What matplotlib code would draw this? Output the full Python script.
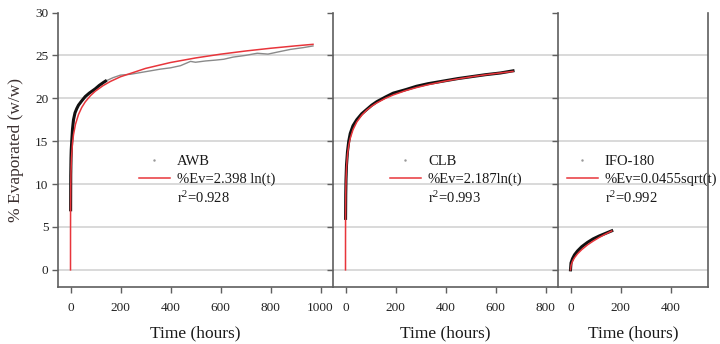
import matplotlib
matplotlib.use("Agg")
import matplotlib.pyplot as plt
from matplotlib.lines import Line2D

plt.rcParams['font.family'] = ['Liberation Serif', 'DejaVu Serif']
plt.rcParams['mathtext.fontset'] = 'custom'
plt.rcParams['mathtext.rm'] = 'Liberation Serif'
plt.rcParams['mathtext.it'] = 'Liberation Serif:italic'

# ---------------- data ----------------
# AWB observed (dense early part, sparse later part)
awb_t_dense = [0.5, 1, 2, 3, 5, 8, 12, 18, 25, 32, 45, 59, 75, 99, 115, 132, 140]
awb_y_dense = [7.0, 11.0, 13.0, 14.0, 15.0, 16.4, 17.5, 18.3, 18.8, 19.2, 19.7, 20.2, 20.6, 21.1, 21.5, 21.85, 22.0]
awb_t_sparse = [140, 170, 200, 240, 280, 320, 360, 400, 440, 480, 500, 540, 580, 613, 650, 700, 747, 790, 830, 880, 930, 970]
awb_y_sparse = [22.0, 22.4, 22.7, 22.8, 23.0, 23.2, 23.4, 23.55, 23.8, 24.3, 24.2, 24.35, 24.45, 24.55, 24.8, 25.0, 25.25, 25.15, 25.4, 25.7, 25.9, 26.1]
awb_fit_t = [0.017, 0.05, 0.1, 0.3, 1, 2, 4, 8, 12, 20, 32, 45, 59, 80, 99, 130, 160, 200, 300, 400, 500, 600, 700, 800, 900, 970]
awb_fit_y = [0.0, 2.62, 4.28, 6.91, 9.8, 11.46, 13.12, 14.79, 15.76, 16.98, 18.11, 18.93, 19.58, 20.31, 20.82, 21.47, 21.97, 22.51, 23.48, 24.17, 24.70, 25.14, 25.51, 25.83, 26.11, 26.29]

# CLB
clb_t = [0.3, 1, 2, 4, 8, 13, 19, 30, 45, 65, 85, 105, 125, 160, 191, 240, 284, 330, 390, 450, 511, 560, 620, 670]
clb_y = [6.0, 8.8, 10.5, 12.2, 13.8, 15.0, 15.9, 16.8, 17.5, 18.2, 18.7, 19.2, 19.6, 20.15, 20.6, 21.0, 21.4, 21.7, 22.0, 22.3, 22.55, 22.75, 22.95, 23.2]
clb_fit_t = [0.017, 0.05, 0.1, 0.3, 1, 2, 4, 8, 13, 19, 30, 45, 65, 85, 105, 125, 160, 191, 240, 284, 330, 390, 450, 511, 560, 620, 670]
clb_fit_y = [0.0, 2.35, 3.86, 6.27, 8.9, 10.42, 11.93, 13.45, 14.51, 15.34, 16.34, 17.23, 18.03, 18.62, 19.08, 19.46, 20.0, 20.39, 20.89, 21.25, 21.58, 21.95, 22.26, 22.54, 22.74, 22.96, 23.13]

# IFO-180
ifo_t = [0, 2, 8, 16, 28, 45, 68, 90, 115, 140, 165]
ifo_y = [0.0, 0.8, 1.3, 1.75, 2.2, 2.7, 3.2, 3.6, 3.95, 4.25, 4.55]
ifo_fit_t = [0, 2, 8, 16, 28, 45, 68, 90, 115, 140, 165]
ifo_fit_y = [0.0, 0.50, 1.0, 1.41, 1.87, 2.36, 2.91, 3.34, 3.78, 4.17, 4.53]

names = ["AWB", "CLB", "IFO-180"]
eq_labels = ["%Ev=2.398 ln(t)", "%Ev=2.187ln(t)", "%Ev=0.0455sqrt(t)"]
r2_labels = [r"r$^{2}$=0.928", r"r$^{2}$=0.993", r"r$^{2}$=0.992"]
xlims = [(-50, 1050), (-50, 850), (-50, 550)]
xticks = [[0, 200, 400, 600, 800, 1000], [0, 200, 400, 600, 800], [0, 200, 400]]
yticks = [0, 5, 10, 15, 20, 25, 30]

# ---------------- figure ----------------
fig = plt.figure(figsize=(7.2, 3.44), dpi=100)
bottom = 57 / 344
height = 274.5 / 344
positions = [(58 / 720, bottom, 275 / 720, height),
             (333 / 720, bottom, 225 / 720, height),
             (558 / 720, bottom, 150 / 720, height)]
axes = [fig.add_axes(p) for p in positions]

red = '#e8353b'
spine_c = '#5f5f5f'
grid_c = '#d9d9d9'

for i, ax in enumerate(axes):
    ax.set_xlim(*xlims[i])
    ax.set_ylim(-2, 30)
    ax.set_xticks(xticks[i])
    ax.set_yticks(yticks)
    for yv in yticks[:-1]:
        ax.axhline(yv, color=grid_c, lw=1.4, zorder=0)
    ax.spines['top'].set_visible(False)
    ax.spines['right'].set_visible(i == 2)
    for s in ['left', 'bottom', 'right']:
        ax.spines[s].set_color(spine_c)
        ax.spines[s].set_linewidth(1.2)
    ax.tick_params(axis='both', direction='out', length=4, width=1, color=spine_c,
                   labelsize=9.5, labelcolor='#222222')
    ax.tick_params(axis='x', pad=7)
    ax.tick_params(axis='y', pad=3)
    if i > 0:
        ax.tick_params(axis='y', labelleft=False)
    ax.set_xlabel("Time (hours)", fontsize=12.5, labelpad=8, color='#1a1a1a')

axes[0].set_ylabel("% Evaporated (w/w)", fontsize=12.5, color='#3b3030', labelpad=8)

# AWB
ax = axes[0]
ax.plot(awb_t_sparse, awb_y_sparse, color='#8a8a8a', lw=1.0, zorder=2)
ax.plot(awb_t_dense, awb_y_dense, color='#111111', lw=2.2, zorder=2)
ax.plot(awb_fit_t, awb_fit_y, color=red, lw=1.1, zorder=3)
# CLB
ax = axes[1]
ax.plot(clb_t, clb_y, color='#111111', lw=2.2, zorder=2)
ax.plot(clb_fit_t, clb_fit_y, color=red, lw=1.1, zorder=3)
# IFO
ax = axes[2]
ax.plot(ifo_t, ifo_y, color='#111111', lw=2.2, zorder=2)
ax.plot(ifo_fit_t, ifo_fit_y, color=red, lw=1.1, zorder=3)

anchors = [((139 - 58) / 275, (287 - 155) / 274.5),
           ((390 - 333) / 225, (287 - 155) / 274.5),
           ((567 - 558) / 150, (287 - 155) / 274.5)]
for i, ax in enumerate(axes):
    handles = [Line2D([], [], marker='.', markersize=1.5, color='#999999', linestyle='none'),
               Line2D([], [], color=red, lw=1.1),
               Line2D([], [], linestyle='none')]
    ax.legend(handles, [names[i], eq_labels[i], r2_labels[i]],
              loc='upper left', bbox_to_anchor=anchors[i], borderaxespad=0,
              borderpad=0, frameon=False, fontsize=10.5, handlelength=2.1,
              handletextpad=0.5, labelspacing=0.3, labelcolor='#1a1a1a')

fig.savefig("out.png", dpi=100)
